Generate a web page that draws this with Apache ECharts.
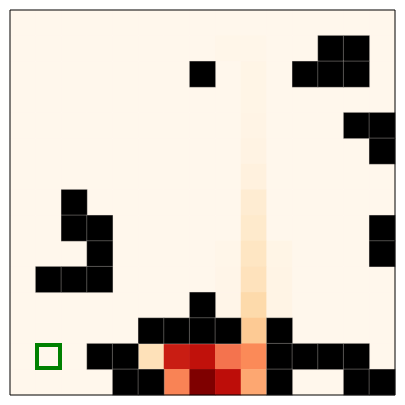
<!DOCTYPE html>
<html>
<head>
<meta charset="utf-8">
<script src="https://cdn.jsdelivr.net/npm/echarts@6/dist/echarts.min.js"></script>
<style>html,body{margin:0;padding:0;background:#fff;}#c{width:405px;height:405px;}</style>
</head>
<body>
<div id="c"></div>
<script>
// Grid size
const cols = [0,1,2,3,4,5,6,7,8,9,10,11,12,13,14];
const rows = [0,1,2,3,4,5,6,7,8,9,10,11,12,13,14];

// Value field (row-major, row 0 at top)
const row0  = [0,0,0,0,0,0,0,0,0,0,0,0,0,0,0];
const row1  = [0,0,0,0,0,0,0,0,0.01,0.01,0,0,0,0,0];
const row2  = [0,0,0,0,0,0,0,0,0,0.02,0,0,0,0,0];
const row3  = [0,0,0,0,0,0,0,0,0,0.02,0,0,0,0,0];
const row4  = [0,0,0,0,0,0,0,0,0,0.025,0,0,0,0,0];
const row5  = [0,0,0,0,0,0,0,0,0,0.03,0,0,0,0,0];
const row6  = [0,0,0,0,0,0,0,0,0,0.05,0,0,0,0,0];
const row7  = [0,0,0,0,0,0,0,0,0,0.09,0,0,0,0,0];
const row8  = [0,0,0,0,0,0,0,0,0,0.11,0,0,0,0,0];
const row9  = [0,0,0,0,0,0,0,0,0.01,0.14,0.02,0,0,0,0];
const row10 = [0,0,0,0,0,0,0,0,0.015,0.16,0.025,0,0,0,0];
const row11 = [0,0,0,0,0,0,0,0,0.015,0.21,0.025,0,0,0,0];
const row12 = [0,0,0,0,0,0,0,0,0,0.30,0,0,0,0,0];
const row13 = [0,0,0,0,0,0.17,0.80,0.83,0.58,0.51,0,0,0,0,0];
const row14 = [0,0,0,0,0,0,0.53,1.0,0.84,0.43,0,0,0,0,0];
const valueRows = [row0,row1,row2,row3,row4,row5,row6,row7,row8,row9,row10,row11,row12,row13,row14];

// Wall cells [col, row]
const walls = [
  [12,1],[13,1],
  [7,2],[11,2],[12,2],[13,2],
  [13,4],[14,4],
  [14,5],
  [2,7],
  [2,8],[3,8],[14,8],
  [3,9],[14,9],
  [1,10],[2,10],[3,10],
  [7,11],
  [5,12],[6,12],[7,12],[8,12],[10,12],
  [3,13],[4,13],[10,13],[11,13],[12,13],[13,13],
  [4,14],[5,14],[10,14],[13,14],[14,14]
];

// Start marker [col, row]
const marker = [[1,13]];

const wallSet = new Set(walls.map(w => w[0] + ',' + w[1]));
const heatData = [];
valueRows.forEach((r, ri) => r.forEach((v, ci) => {
  if (!wallSet.has(ci + ',' + ri)) heatData.push([ci, ri, v]);
}));

const chart = echarts.init(document.getElementById('c'), null, {renderer: 'canvas'});
chart.setOption({
  animation: false,
  grid: {left: 10, top: 10, width: 385, height: 385},
  xAxis: {type: 'category', data: cols, axisLine: {show: false}, axisTick: {show: false}, axisLabel: {show: false}, splitLine: {show: false}},
  yAxis: {type: 'category', data: rows, inverse: true, axisLine: {show: false}, axisTick: {show: false}, axisLabel: {show: false}, splitLine: {show: false}},
  visualMap: {
    show: false, type: 'continuous', min: 0, max: 1, seriesIndex: 0, dimension: 2,
    inRange: {color: ['#fff7ec','#fee8c8','#fdd49e','#fdbb84','#fc8d59','#ef6548','#d7301f','#b30000','#7f0000']}
  },
  series: [
    {type: 'heatmap', data: heatData, itemStyle: {borderWidth: 0}, emphasis: {disabled: true}},
    {type: 'heatmap', data: walls.map(w => [w[0], w[1], 1]), itemStyle: {color: '#000', borderColor: 'rgba(230,225,215,0.6)', borderWidth: 0.5}, emphasis: {disabled: true}},
    {type: 'scatter', data: marker, symbol: 'rect', symbolSize: 23,
     itemStyle: {color: 'rgba(0,0,0,0)', borderColor: '#008000', borderWidth: 4, opacity: 1}, emphasis: {disabled: true}, z: 10}
  ],
  graphic: [{type: 'rect', shape: {x: 10, y: 10, width: 385, height: 385}, style: {fill: 'none', stroke: '#000', lineWidth: 1}, z: 100}]
});
</script>
</body>
</html>
